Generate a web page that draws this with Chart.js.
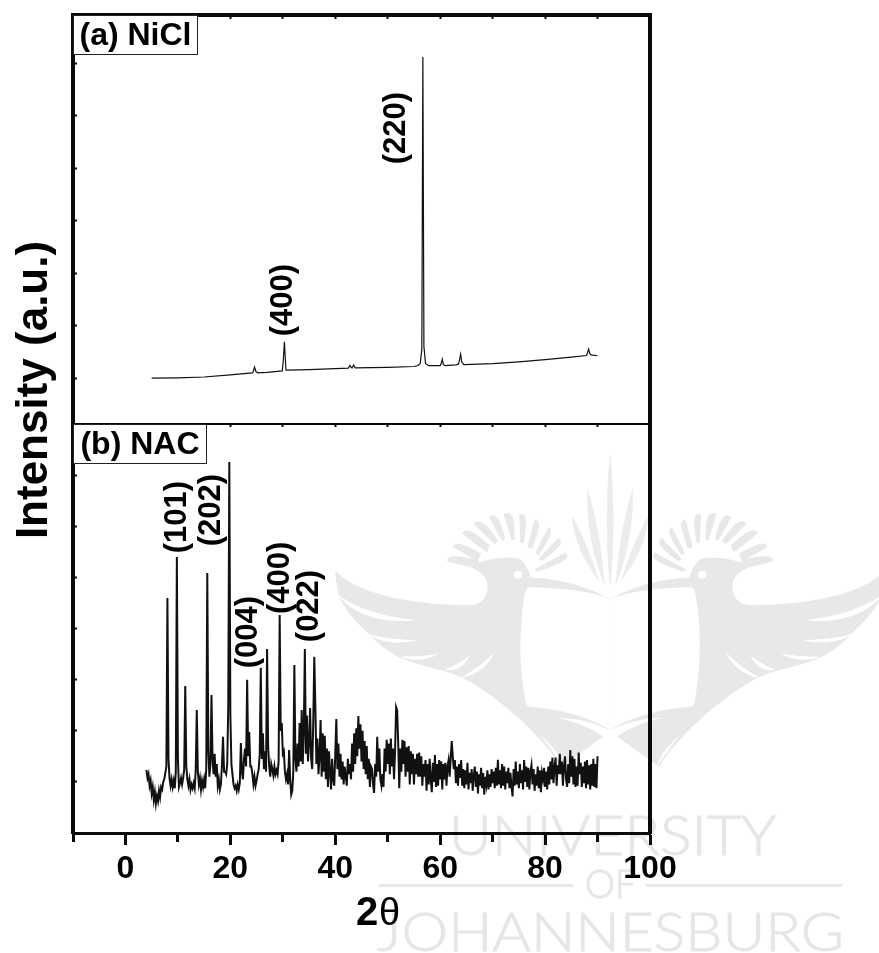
<!DOCTYPE html>
<html>
<head>
<meta charset="utf-8">
<title>XRD patterns</title>
<script src="https://cdn.jsdelivr.net/npm/chart.js@4"></script>
<style>
  html, body { margin: 0; padding: 0; background: #fff; }
  #wrap { position: relative; width: 879px; height: 953px; overflow: hidden; }
  #wrap svg, #wrap canvas { position: absolute; }
  .mark { font-family: Lato, "Open Sans", sans-serif; font-weight: 300; fill: #e6e6e6; stroke: #e6e6e6; stroke-width: 0.9; }
  .feather path { stroke: #e8e8e8; stroke-width: 7; stroke-linejoin: round; }
</style>
</head>
<body>
<div id="wrap">
  <svg style="left:330px;top:450px" width="549" height="340" viewBox="0 0 1568 1020" preserveAspectRatio="none">
    <defs>
      <g id="half">
        <path fill="#e8e8e8" d="M15 362 C90 440 250 465 405 465 C440 462 452 430 450 405 C448 378 425 360 400 350 C440 325 510 318 535 325 C560 335 575 360 582 383 C650 385 740 410 800 448 L800 840 L780 860 L660 950 C620 880 500 750 375 682 C330 660 260 650 205 625 C170 610 135 580 115 555 C75 520 35 470 25 435 C20 410 15 385 15 362 Z"/>
        <path fill="#fff" d="M570 412 C700 415 760 430 800 448 L800 840 C740 800 650 775 570 770 C560 770 558 755 555 730 C540 640 540 540 555 440 C558 420 562 412 570 412 Z"/>
        <g fill="#fff">
          <path d="M20 432 C70 500 160 522 245 510 C170 503 80 480 20 432 Z"/>
          <path d="M110 552 C150 582 200 582 249 571 C200 568 150 566 110 552 Z"/>
          <path d="M200 620 C240 636 285 630 312 610 C280 618 240 620 200 620 Z"/>
          <path d="M328 658 C362 668 388 645 399 616 C375 638 350 650 328 658 Z"/>
          <path d="M372 684 C420 676 455 645 470 606 C440 638 410 662 372 684 Z"/>
          <path d="M600 855 C630 880 655 915 670 952 C645 920 625 885 600 855 Z"/>
          <path d="M650 803 C700 815 750 835 782 862 L802 842 C760 818 700 803 650 803 Z"/>
          <ellipse cx="537" cy="374" rx="12" ry="12"/>
          <path d="M540 322 C565 335 578 360 582 385 L572 380 C568 358 555 338 540 322 Z"/>
        </g>
        <g fill="#e8e8e8" class="feather">
          <path d="M420 352 L338 332 C338 320 355 318 422 332 Z"/>
          <path d="M420 328 L355 290 C355 280 375 280 428 312 Z"/>
          <path d="M446 302 L382 250 C387 238 405 242 452 288 Z"/>
          <path d="M470 278 L415 222 C422 212 440 215 476 272 Z"/>
          <path d="M493 268 L458 202 C467 194 482 198 496 266 Z"/>
          <path d="M522 268 L500 194 C515 187 525 198 524 266 Z"/>
          <path d="M547 276 L544 196 C556 192 562 207 550 276 Z"/>
          <path d="M568 290 L587 212 C598 216 597 228 575 292 Z"/>
          <path d="M590 308 L625 236 C632 243 630 254 595 312 Z"/>
          <path d="M600 326 L653 268 C662 277 657 288 605 330 Z"/>
          <path d="M588 360 L673 311 C678 322 672 333 592 362 Z"/>
        </g>
        <g fill="#ececec">
          <path d="M800 10 C788 130 788 300 800 410 C812 300 812 130 800 10 Z"/>
          <path d="M735 115 C730 230 758 340 785 408 C778 320 765 210 735 115 Z"/>
          <path d="M690 195 C695 270 728 340 770 395 C750 330 725 260 690 195 Z"/>
        </g>
      </g>
    </defs>
    <use href="#half"/>
    <use href="#half" transform="translate(1600,0) scale(-1,1)"/>
  </svg>
  <svg style="left:0;top:0" width="879" height="953" viewBox="0 0 879 953">
    <text class="mark" x="449" y="855" font-size="55" textLength="327" lengthAdjust="spacingAndGlyphs">UNIVERSITY</text>
    <text class="mark" x="585" y="898" font-size="39" textLength="51" lengthAdjust="spacingAndGlyphs">OF</text>
    <rect x="379" y="884" width="194" height="3" fill="#e8e8e8"/>
    <rect x="646" y="884" width="196" height="3" fill="#e8e8e8"/>
    <text class="mark" x="377" y="951" font-size="54" textLength="467" lengthAdjust="spacingAndGlyphs">JOHANNESBURG</text>
  </svg>
  <canvas id="xrd" width="879" height="953" style="left:0;top:0"></canvas>
</div>
<script>
// (a) NiCl pattern
const niclAngle = [5, 10, 15, 20, 24.2, 24.4, 24.6, 24.9, 25.2, 27, 29.9, 30.1, 30.3, 30.6, 35, 40, 42.5, 42.8, 43, 43.2, 43.5, 43.8,
  50, 55, 55.8, 56.2, 56.5, 56.7, 56.9, 57.2, 57.8, 60, 60.2, 60.4, 60.6, 60.9, 63, 63.5, 63.7, 63.9, 64.1, 64.5,
  70, 75, 80, 85, 87.9, 88.1, 88.3, 88.5, 88.8, 90];
const niclIntensity = [0, 1, 4, 12, 20, 26, 42, 24, 20, 22, 27, 70, 138, 30, 32, 36, 38, 48, 42, 38, 50, 39,
  41, 44, 48, 56, 110, 1223, 120, 56, 47, 47, 56, 72, 52, 47, 50, 53, 70, 91, 62, 51,
  55, 62, 70, 80, 86, 98, 110, 94, 88, 85];

// (b) NAC pattern
const nacAngle = [
  4, 4.2, 4.4, 4.6, 4.8, 5, 5.2, 5.4, 5.6, 5.8, 6, 6.2, 6.4, 6.6, 6.8, 7, 7.2, 7.4, 7.6, 7.8, 8, 8.2, 8.4, 8.6, 8.8,
  9, 9.2, 9.4, 9.6, 9.8, 10, 10.2, 10.4, 10.6, 10.8, 11, 11.2, 11.4, 11.6, 11.8, 12, 12.2, 12.4, 12.6, 12.8, 13, 13.2, 13.4, 13.6, 13.8,
  14, 14.2, 14.4, 14.6, 14.8, 15, 15.2, 15.4, 15.6, 15.8, 16, 16.2, 16.4, 16.6, 16.8, 17, 17.2, 17.4, 17.6, 17.8, 18, 18.2, 18.4, 18.6, 18.8,
  19, 19.2, 19.4, 19.6, 19.8, 20, 20.2, 20.4, 20.6, 20.8, 21, 21.2, 21.4, 21.6, 21.8, 22, 22.2, 22.4, 22.6, 22.8, 23, 23.2, 23.4, 23.6, 23.8,
  24, 24.2, 24.4, 24.6, 24.8, 25, 25.2, 25.4, 25.6, 25.8, 26, 26.2, 26.4, 26.6, 26.8, 27, 27.2, 27.4, 27.6, 27.8, 28, 28.2, 28.4, 28.6, 28.8,
  29, 29.2, 29.4, 29.6, 29.8, 30, 30.2, 30.4, 30.6, 30.8, 31, 31.2, 31.4, 31.6, 31.8, 32, 32.2, 32.4, 32.6, 32.8, 33, 33.2, 33.4, 33.6, 33.8,
  34, 34.2, 34.4, 34.6, 34.8, 35, 35.2, 35.4, 35.6, 35.8, 36, 36.2, 36.4, 36.6, 36.8, 37, 37.2, 37.4, 37.6, 37.8, 38, 38.2, 38.4, 38.6, 38.8,
  39, 39.2, 39.4, 39.6, 39.8, 40, 40.2, 40.4, 40.6, 40.8, 41, 41.2, 41.4, 41.6, 41.8, 42, 42.2, 42.4, 42.6, 42.8, 43, 43.2, 43.4, 43.6, 43.8,
  44, 44.2, 44.4, 44.6, 44.8, 45, 45.2, 45.4, 45.6, 45.8, 46, 46.2, 46.4, 46.6, 46.8, 47, 47.2, 47.4, 47.6, 47.8, 48, 48.2, 48.4, 48.6, 48.8,
  49, 49.2, 49.4, 49.6, 49.8, 50, 50.2, 50.4, 50.6, 50.8, 51, 51.2, 51.4, 51.6, 51.8, 52, 52.2, 52.4, 52.6, 52.8, 53, 53.2, 53.4, 53.6, 53.8,
  54, 54.2, 54.4, 54.6, 54.8, 55, 55.2, 55.4, 55.6, 55.8, 56, 56.2, 56.4, 56.6, 56.8, 57, 57.2, 57.4, 57.6, 57.8, 58, 58.2, 58.4, 58.6, 58.8,
  59, 59.2, 59.4, 59.6, 59.8, 60, 60.2, 60.4, 60.6, 60.8, 61, 61.2, 61.4, 61.6, 61.8, 62, 62.2, 62.4, 62.6, 62.8, 63, 63.2, 63.4, 63.6, 63.8,
  64, 64.2, 64.4, 64.6, 64.8, 65, 65.2, 65.4, 65.6, 65.8, 66, 66.2, 66.4, 66.6, 66.8, 67, 67.2, 67.4, 67.6, 67.8, 68, 68.2, 68.4, 68.6, 68.8,
  69, 69.2, 69.4, 69.6, 69.8, 70, 70.2, 70.4, 70.6, 70.8, 71, 71.2, 71.4, 71.6, 71.8, 72, 72.2, 72.4, 72.6, 72.8, 73, 73.2, 73.4, 73.6, 73.8,
  74, 74.2, 74.4, 74.6, 74.8, 75, 75.2, 75.4, 75.6, 75.8, 76, 76.2, 76.4, 76.6, 76.8, 77, 77.2, 77.4, 77.6, 77.8, 78, 78.2, 78.4, 78.6, 78.8,
  79, 79.2, 79.4, 79.6, 79.8, 80, 80.2, 80.4, 80.6, 80.8, 81, 81.2, 81.4, 81.6, 81.8, 82, 82.2, 82.4, 82.6, 82.8, 83, 83.2, 83.4, 83.6, 83.8,
  84, 84.2, 84.4, 84.6, 84.8, 85, 85.2, 85.4, 85.6, 85.8, 86, 86.2, 86.4, 86.6, 86.8, 87, 87.2, 87.4, 87.6, 87.8, 88, 88.2, 88.4, 88.6, 88.8,
  89, 89.2, 89.4, 89.6, 89.8, 90
];
const nacIntensity = [
  47, 15, 30, -15, 5, -45, -20, -70, -40, -85, -55, -75, -35, -60, -20, -30, 0, 10, 35, 60, 719, 90, 15, -15, 10,
  -20, 5, -25, 40, 880, 90, -20, -5, 15, -10, 15, 50, 375, 60, 10, -15, 10, -30, -10, -25, -5, -25, 50, 281, 40,
  -10, 15, -30, 5, -20, 10, -25, 50, 817, 120, 20, 70, 340, 90, 30, 110, 20, 70, -15, 10, -30, -10, 70, 176, 40,
  40, 30, 70, 300, 1251, 260, 70, 30, -10, -25, -15, -35, -10, -30, -5, 152, 40, 10, 90, 130, 60, 399, 100, 195, 60,
  60, 30, -10, 20, -15, 5, 30, 50, 110, 446, 90, 190, 50, 120, 40, 520, 140, 60, 20, 70, 50, 25, 60, 30, 45,
  30, 80, 653, 200, 230, 110, 120, 40, 10, 30, -10, 125, 10, -50, -35, 40, 457, 90, 40, 150, 60, 230, 80, 281, 70,
  200, 520, 110, 260, 80, 150, 289, 90, 50, 230, 489, 300, 70, 170, 30, 100, 242, 20, 190, 40, 180, 10, 130, -20, 120,
  40, -30, 90, 10, -15, 110, 246, 50, 150, 20, 110, 10, 80, -10, 60, 20, -15, 90, 30, 70, 10, 150, 40, 190, 70,
  210, 100, 258, 130, 225, 80, 200, 50, 160, 30, 140, 10, 90, -20, 60, 50, -10, -43, 70, 20, 176, 40, 130, 10, -15,
  30, -20, 130, 40, 165, 70, 150, 30, 170, 60, 130, 10, 120, 293, 280, 150, -25, 130, 40, 165, 70, 160, 20, 135, 40,
  140, -10, 120, 30, 110, -10, 90, 30, 110, 20, 115, 20, 100, -15, 70, 20, 85, -35, 70, -10, 90, 10, -40, 75, 0,
  105, -20, 70, -15, 85, 10, 80, -30, 70, 10, 75, -15, 60, 85, 20, 90, 160, 100, 50, 85, -5, 60, -15, 70, 15,
  85, -15, 50, -25, 45, -10, 75, -30, 35, -5, 50, -35, 25, 60, -20, 40, -45, 30, -15, 55, -25, 35, -50, 20, -10,
  45, -30, 30, -20, 50, -5, 40, -25, 55, -15, 86, -10, 45, -25, 70, -15, 60, -30, 40, -5, 55, -25, 35, -20, -57,
  50, -15, 80, -10, 40, -25, 70, -5, 45, -30, 85, 0, 60, -20, 55, -30, 40, 65, -10, 50, -35, 30, -15, 60, -25,
  45, -40, 35, 10, 55, -20, 40, -30, 60, -10, 80, 10, 95, -5, 55, 95, -15, 65, 30, 110, 30, 80, -15, 60, 100,
  10, -20, 70, -5, 125, 20, 100, -10, 90, -20, 60, -15, 115, 30, 75, -20, 60, -5, 80, -25, 85, -10, 65, -30, 70,
  -15, 90, -20, 70, -25, 100
];

// tick positions
const xMajorTicks = [0, 20, 40, 60, 80, 100];
const xMinorTicks = [-10, 10, 30, 50, 70, 90];
const xFrameTicks = [-10, 0, 10, 20, 30, 40, 50, 60, 70, 80, 90, 100];
const yTicksA = [0, 200, 400, 600, 800, 1000, 1200];
const yTicksB = [0, 200, 400, 600, 800, 1000, 1200, 1400];

// peak labels, placed in data units of their panel
const peakLabelsA = [['(400)', 30.1, 297], ['(220)', 51.7, 952]];
const peakLabelsB = [['(101)', 9.9, 1036], ['(202)', 16.3, 1063], ['(004)', 23.5, 586], ['(400)', 29.6, 798], ['(022)', 35, 688]];

const INK = '#0a0a0a';

function pairs(xs, ys) {
  return xs.map((x, i) => ({ x: x, y: ys[i] }));
}

function fixedTicks(values) {
  return scale => { scale.ticks = values.map(v => ({ value: v })); };
}

// y axis without labels, only the frame line and small ticks
function frameY(stack, weight, pos, min, max, values, len) {
  return {
    type: 'linear', position: pos, stack: stack, stackWeight: 1, weight: weight, min: min, max: max,
    afterBuildTicks: fixedTicks(values),
    afterFit: s => { s.width = pos === 'left' ? 73 : 0; },
    border: { display: true, color: INK, width: 4 },
    grid: { drawOnChartArea: false, drawTicks: true, tickLength: len, tickWidth: 2, tickColor: INK },
    ticks: { display: false }
  };
}

// x axis that only puts ticks on a frame line
function frameX(position, values, len, width, tickWidth) {
  return {
    type: 'linear', position: position, min: -10, max: 100,
    afterBuildTicks: fixedTicks(values),
    border: { display: true, color: INK, width: width },
    grid: { drawOnChartArea: false, drawTicks: true, tickLength: len, tickWidth: tickWidth, tickColor: INK },
    ticks: { display: false }
  };
}

const textLayer = {
  id: 'textLayer',
  afterDraw(chart) {
    const c = chart.ctx;
    const { x, ya, yb } = chart.scales;
    c.save();
    c.fillStyle = '#000';
    c.textAlign = 'center';
    c.textBaseline = 'middle';

    c.font = 'bold 31px "Liberation Sans"';
    const peak = (list, y) => list.forEach(p => {
      c.save();
      c.translate(x.getPixelForValue(p[1]), y.getPixelForValue(p[2]));
      c.rotate(-Math.PI / 2);
      c.fillText(p[0], 0, 0);
      c.restore();
    });
    peak(peakLabelsA, ya);
    peak(peakLabelsB, yb);

    // panel tags
    const tag = (text, left, top, w, h) => {
      c.fillStyle = '#fff';
      c.fillRect(left, top, w, h);
      c.strokeStyle = '#222';
      c.lineWidth = 1;
      c.strokeRect(left + 0.5, top + 0.5, w - 1, h - 1);
      c.fillStyle = '#000';
      c.font = 'bold 32px "Liberation Sans"';
      c.fillText(text, left + w / 2, top + h / 2 + 1);
    };
    tag('(a) NiCl', 73, 15, 125, 40);
    tag('(b) NAC', 73, 424, 134, 40);

    // axis titles
    c.font = 'bold 44px "Liberation Sans"';
    c.save();
    c.translate(35, 390);
    c.rotate(-Math.PI / 2);
    c.fillText('Intensity (a.u.)', 0, 0);
    c.restore();

    c.textAlign = 'left';
    c.textBaseline = 'alphabetic';
    c.font = 'bold 40px "Liberation Sans"';
    c.fillText('2', 356, 925);
    c.font = '38px "Liberation Sans"';
    c.fillText('θ', 379, 925);
    c.restore();
  }
};

new Chart(document.getElementById('xrd'), {
  type: 'line',
  data: {
    datasets: [
      { label: '(a) NiCl', data: pairs(niclAngle, niclIntensity), xAxisID: 'x', yAxisID: 'ya',
        borderColor: '#111', borderWidth: 1.2, pointRadius: 0, tension: 0 },
      { label: '(b) NAC', data: pairs(nacAngle, nacIntensity), xAxisID: 'x', yAxisID: 'yb',
        borderColor: '#111', borderWidth: 2, pointRadius: 0, tension: 0 }
    ]
  },
  options: {
    responsive: false,
    animation: false,
    devicePixelRatio: 1,
    layout: { padding: { top: 15, right: 229, left: 0, bottom: 0 } },
    plugins: { legend: { display: false }, tooltip: { enabled: false } },
    scales: {
      x: {
        type: 'linear', position: 'bottom', min: -10, max: 100,
        afterBuildTicks: fixedTicks(xMajorTicks),
        afterFit: s => { s.height = 120; },
        border: { display: true, color: INK, width: 3 },
        grid: { drawOnChartArea: false, drawTicks: true, tickLength: 12, tickWidth: 3, tickColor: INK },
        ticks: { color: '#000', padding: 5, maxRotation: 0, autoSkip: false,
          font: { family: '"Liberation Sans"', weight: 'bold', size: 32 } }
      },
      xMinor: frameX({ yb: -200 }, xMinorTicks, 7, 3, 3),
      xTop: frameX({ ya: 1383 }, xFrameTicks, 2, 4, 2),
      xDiv: frameX({ yb: 1400 }, xFrameTicks, 2, 2, 2),
      ya: frameY('left', 2, 'left', -175, 1383, yTicksA, -4),
      yb: frameY('left', 1, 'left', -200, 1400, yTicksB, -4),
      yaR: frameY('right', 2, 'right', -175, 1383, yTicksA, 2),
      ybR: frameY('right', 1, 'right', -200, 1400, yTicksB, 2)
    }
  },
  plugins: [textLayer]
});
</script>
</body>
</html>
